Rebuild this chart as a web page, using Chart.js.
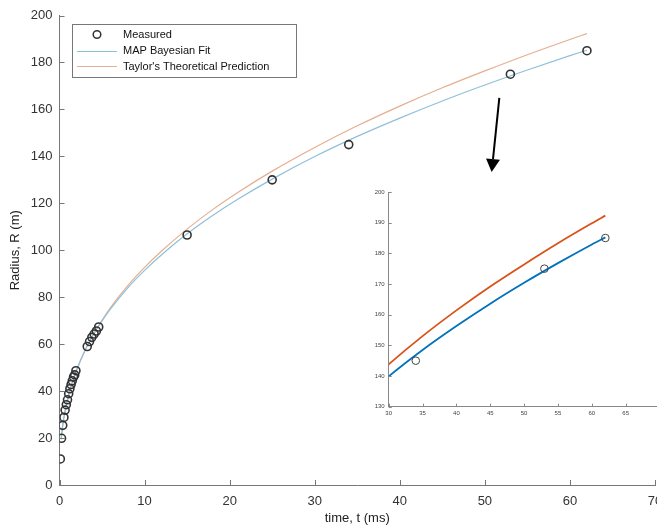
<!DOCTYPE html>
<html>
<head>
<meta charset="utf-8">
<script src="https://cdn.jsdelivr.net/npm/chart.js@4.4.0/dist/chart.umd.min.js"></script>
<style>
  html, body { margin: 0; padding: 0; background: #fff; overflow: hidden; width: 657px; height: 528px; }
  #wrap { position: relative; width: 657px; height: 528px; overflow: hidden; }
  #main { position: absolute; left: 0; top: 0; }
  #inset { position: absolute; left: 340px; top: 180px; }
</style>
</head>
<body>
<div id="wrap">
  <canvas id="main" width="680" height="528" style="width:680px;height:528px"></canvas>
  <canvas id="inset" width="340" height="250" style="width:340px;height:250px"></canvas>
</div>
<script>
// measured data (Trinity blast)
const tMeasured = [0.10, 0.24, 0.38, 0.52, 0.66, 0.80, 0.94, 1.08, 1.22, 1.36, 1.50, 1.65, 1.79, 1.93,
                   3.26, 3.53, 3.80, 4.07, 4.34, 4.61, 15.0, 25.0, 34.0, 53.0, 62.0];
const rMeasured = [11.1, 19.9, 25.4, 28.8, 31.9, 34.2, 36.3, 38.9, 41.0, 42.8, 44.4, 46.0, 46.9, 48.7,
                   59.0, 61.1, 62.9, 64.3, 65.6, 67.3, 106.5, 130.0, 145.0, 175.0, 185.0];

// curves
const tCurve = [0.2, 0.25, 0.5, 1, 1.5, 2, 3, 4, 5, 6, 8, 10, 12, 15, 18, 21, 25, 30, 35, 40, 45, 50, 55, 60, 62];
const rMap = [20.1, 21.9, 28.7, 37.5, 43.9, 49.0, 57.4, 64.1, 69.9, 75.0, 83.9, 91.4, 98.1, 107.0,
              114.8, 121.8, 130.3, 139.9, 148.5, 156.3, 163.6, 170.4, 176.8, 182.9, 185.2];
const rTaylor = [19.4, 21.2, 28.0, 36.9, 43.4, 48.7, 57.3, 64.2, 70.2, 75.6, 84.8, 92.7, 99.7, 109.0,
                 117.3, 124.7, 133.7, 143.8, 153.0, 161.4, 169.2, 176.4, 183.3, 189.8, 192.3];

const xTicks = [0, 10, 20, 30, 40, 50, 60, 70];
const yTicks = [0, 20, 40, 60, 80, 100, 120, 140, 160, 180, 200];
const insetXTicks = [30, 35, 40, 45, 50, 55, 60, 65];
const insetYTicks = [130, 140, 150, 160, 170, 180, 190, 200];

const legendLabels = ['Measured', 'MAP Bayesian Fit', "Taylor's Theoretical Prediction"];

const pts = (xs, ys) => xs.map((x, i) => ({ x: x, y: ys[i] }));

// ticks pointing into the axes, like the original
const innerTicks = {
  id: 'innerTicks',
  afterDraw(chart, args, opts) {
    const ctx = chart.ctx;
    const area = chart.chartArea;
    ctx.save();
    ctx.strokeStyle = opts.color || '#666';
    ctx.lineWidth = 1;
    const len = opts.len || 5;
    const xs = chart.scales.x, ys = chart.scales.y;
    ctx.beginPath();
    xs.ticks.forEach(t => {
      const px = Math.round(xs.getPixelForValue(t.value)) + 0.5;
      ctx.moveTo(px, area.bottom);
      ctx.lineTo(px, area.bottom - len);
    });
    ys.ticks.forEach(t => {
      const py = Math.round(ys.getPixelForValue(t.value)) + 0.5;
      ctx.moveTo(area.left, py);
      ctx.lineTo(area.left + len, py);
    });
    ctx.stroke();
    ctx.restore();
  }
};

const boxLegend = {
  id: 'boxLegend',
  afterDraw(chart) {
    const ctx = chart.ctx;
    ctx.save();
    ctx.fillStyle = '#fff';
    ctx.fillRect(72, 24, 224, 53);
    ctx.strokeStyle = '#777';
    ctx.lineWidth = 1;
    ctx.strokeRect(72.5, 24.5, 224, 53);
    // marker
    ctx.strokeStyle = '#333';
    ctx.lineWidth = 1.5;
    ctx.beginPath();
    ctx.arc(97, 34.5, 3.8, 0, Math.PI * 2);
    ctx.stroke();
    // lines
    ctx.lineWidth = 1;
    ctx.strokeStyle = '#8fc0d9';
    ctx.beginPath(); ctx.moveTo(77, 51.5); ctx.lineTo(117, 51.5); ctx.stroke();
    ctx.strokeStyle = '#e6ae90';
    ctx.beginPath(); ctx.moveTo(77, 66.5); ctx.lineTo(117, 66.5); ctx.stroke();
    ctx.fillStyle = '#111';
    ctx.font = '11px "Liberation Sans", Arial, sans-serif';
    ctx.textBaseline = 'middle';
    ctx.fillText(legendLabels[0], 123, 35);
    ctx.fillText(legendLabels[1], 123, 51);
    ctx.fillText(legendLabels[2], 123, 66.5);
    ctx.restore();
  }
};

const arrow = {
  id: 'arrow',
  afterDraw(chart) {
    const ctx = chart.ctx;
    const xs = chart.scales.x, ys = chart.scales.y;
    const x0 = xs.getPixelForValue(51.7), y0 = ys.getPixelForValue(164.9);
    const x1 = xs.getPixelForValue(50.8), y1 = ys.getPixelForValue(133.3);
    const ang = Math.atan2(y1 - y0, x1 - x0);
    const hl = 13, hw = 7;
    const bx = x1 - hl * Math.cos(ang), by = y1 - hl * Math.sin(ang);
    ctx.save();
    ctx.strokeStyle = '#000';
    ctx.fillStyle = '#000';
    ctx.lineWidth = 2;
    ctx.beginPath(); ctx.moveTo(x0, y0); ctx.lineTo(bx, by); ctx.stroke();
    ctx.beginPath();
    ctx.moveTo(x1, y1);
    ctx.lineTo(bx + hw * Math.sin(ang), by - hw * Math.cos(ang));
    ctx.lineTo(bx - hw * Math.sin(ang), by + hw * Math.cos(ang));
    ctx.closePath();
    ctx.fill();
    ctx.restore();
  }
};

const fontFam = '"Liberation Sans", Arial, Helvetica, sans-serif';

new Chart(document.getElementById('main'), {
  type: 'scatter',
  data: {
    datasets: [
      {
        label: legendLabels[0],
        data: pts(tMeasured, rMeasured),
        showLine: false,
        pointStyle: 'circle',
        pointRadius: 4,
        pointBorderWidth: 1.6,
        pointBorderColor: '#333',
        pointBackgroundColor: 'rgba(0,0,0,0)'
      },
      {
        label: legendLabels[1],
        data: pts(tCurve, rMap),
        showLine: true,
        borderColor: '#8fc0d9',
        borderWidth: 1.2,
        pointRadius: 0,
        cubicInterpolationMode: 'monotone'
      },
      {
        label: legendLabels[2],
        data: pts(tCurve, rTaylor),
        showLine: true,
        borderColor: '#e6ae90',
        borderWidth: 1.2,
        pointRadius: 0,
        cubicInterpolationMode: 'monotone'
      }
    ]
  },
  options: {
    responsive: false,
    animation: false,
    events: [],
    layout: { padding: { left: 0, top: 15.5, right: 25, bottom: 0 } },
    plugins: {
      legend: { display: false },
      tooltip: { enabled: false },
      innerTicks: { len: 5, color: '#777' }
    },
    scales: {
      x: {
        type: 'linear',
        min: 0, max: 70,
        afterBuildTicks: s => { s.ticks = xTicks.map(v => ({ value: v })); },
        afterFit: s => { s.height = 43; },
        grid: { display: false, drawTicks: false },
        border: { display: true, color: '#777', width: 1 },
        ticks: { color: '#333', padding: 9, maxRotation: 0, font: { size: 13, family: fontFam } },
        title: { display: true, text: 'time, t (ms)', color: '#222', padding: { top: 0, bottom: 2 },
                 font: { size: 13, family: fontFam } }
      },
      y: {
        type: 'linear',
        min: 0, max: 200,
        afterBuildTicks: s => { s.ticks = yTicks.map(v => ({ value: v })); },
        afterFit: s => { s.width = 59.5; },
        grid: { display: false, drawTicks: false },
        border: { display: true, color: '#777', width: 1 },
        ticks: { color: '#333', padding: 7, font: { size: 13, family: fontFam } },
        title: { display: true, text: 'Radius, R (m)', color: '#222', padding: { top: 8, bottom: 0 },
                 font: { size: 13, family: fontFam } }
      }
    }
  },
  plugins: [innerTicks, boxLegend, arrow]
});

new Chart(document.getElementById('inset'), {
  type: 'scatter',
  data: {
    datasets: [
      {
        data: pts(tMeasured, rMeasured),
        showLine: false,
        pointStyle: 'circle',
        pointRadius: 3.8,
        pointBorderWidth: 1,
        pointBorderColor: '#444',
        pointBackgroundColor: 'rgba(0,0,0,0)'
      },
      {
        data: pts(tCurve, rMap),
        showLine: true,
        borderColor: '#0072BD',
        borderWidth: 1.8,
        pointRadius: 0,
        cubicInterpolationMode: 'monotone'
      },
      {
        data: pts(tCurve, rTaylor),
        showLine: true,
        borderColor: '#D95319',
        borderWidth: 1.8,
        pointRadius: 0,
        cubicInterpolationMode: 'monotone'
      }
    ]
  },
  options: {
    responsive: false,
    animation: false,
    events: [],
    layout: { padding: { left: 0, top: 12, right: 20.5, bottom: 0 } },
    plugins: {
      legend: { display: false },
      tooltip: { enabled: false },
      innerTicks: { len: 3, color: '#888' }
    },
    scales: {
      x: {
        type: 'linear',
        min: 30, max: 70,
        afterBuildTicks: s => { s.ticks = insetXTicks.map(v => ({ value: v })); },
        afterFit: s => { s.height = 23.3; },
        grid: { display: false, drawTicks: false },
        border: { display: true, color: '#888', width: 1 },
        ticks: { color: '#444', padding: 3, maxRotation: 0, font: { size: 6, family: fontFam } }
      },
      y: {
        type: 'linear',
        min: 130, max: 200,
        afterBuildTicks: s => { s.ticks = insetYTicks.map(v => ({ value: v })); },
        afterFit: s => { s.width = 48.7; },
        grid: { display: false, drawTicks: false },
        border: { display: true, color: '#888', width: 1 },
        ticks: { color: '#444', padding: 4, font: { size: 6, family: fontFam } }
      }
    }
  },
  plugins: [innerTicks]
});
</script>
</body>
</html>
